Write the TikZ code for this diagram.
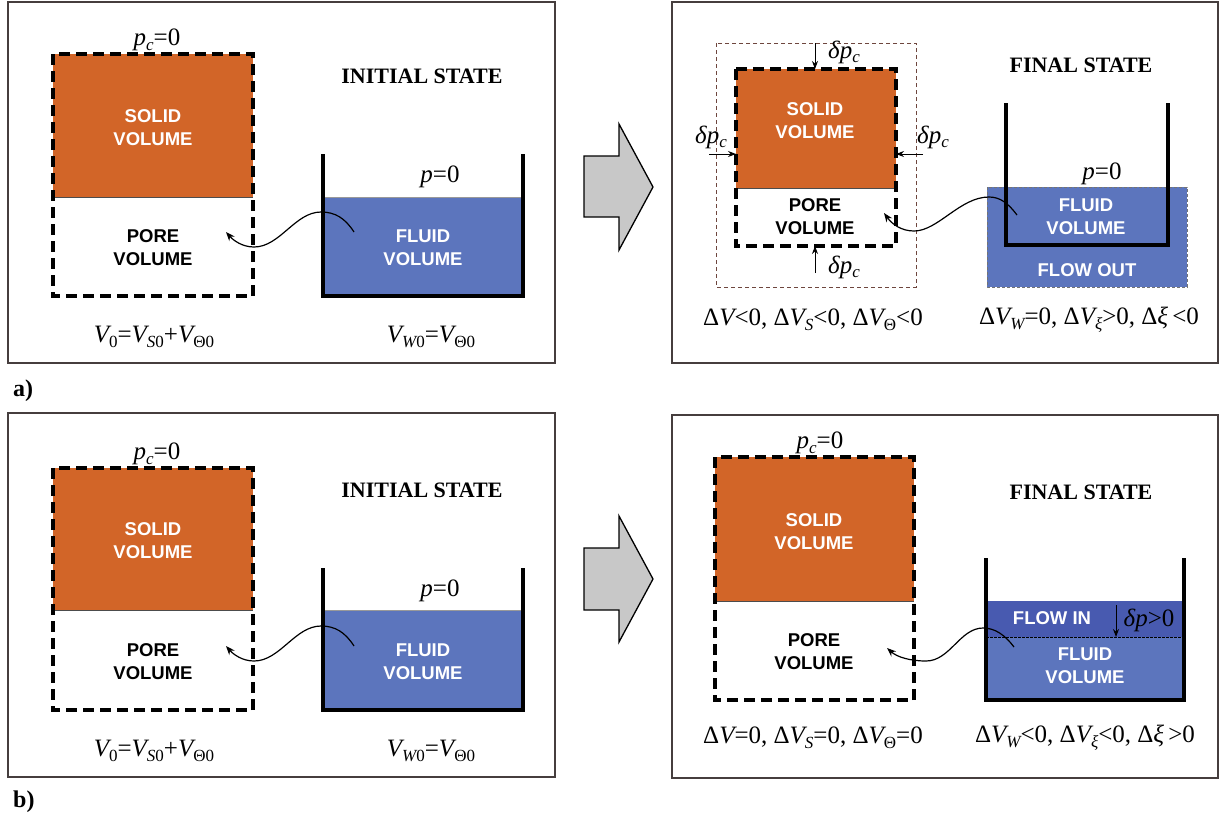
\documentclass[tikz,border=0pt]{standalone}
\usepackage{fontspec}
\setmainfont{Liberation Serif}
\newfontfamily\arialf{Liberation Sans}
\usetikzlibrary{arrows.meta}
\definecolor{solidc}{RGB}{210,101,40}
\definecolor{fluidc}{RGB}{92,117,189}
\definecolor{flowinc}{RGB}{72,90,176}
\definecolor{arrowg}{RGB}{200,200,200}
\definecolor{framec}{RGB}{70,62,62}
\definecolor{outerc}{RGB}{110,70,62}
\newcommand{\lsub}[1]{\raisebox{-0.4ex}{\fontsize{17}{17}\selectfont #1}}
\tikzset{
  frame/.style={draw=framec, line width=1.3pt},
  porebox/.style={draw=black, line width=3.2pt, dash pattern=on 11pt off 6pt},
  outerbox/.style={draw=outerc, line width=0.9pt, dash pattern=on 4pt off 3pt},
  wall/.style={draw=black, line width=3.5pt},
  vol/.style={align=center, font=\arialf\bfseries\fontsize{18.5}{23}\selectfont, inner sep=0pt},
  state/.style={font=\bfseries\fontsize{22}{26}\selectfont, inner sep=0pt},
  mlab/.style={font=\fontsize{25}{28}\selectfont, inner sep=0pt},
  wavy/.style={draw=black, line width=1.2pt, -{Stealth[length=9pt,width=7pt]}},
  force/.style={draw=black, line width=1pt, -{Stealth[length=8pt,width=6pt]}},
  blockarrow/.style={fill=arrowg, draw=black, line width=1.3pt, line join=miter},
  panel/.style={font=\bfseries\fontsize{24}{28}\selectfont, inner sep=0pt}
}
\begin{document}
\begin{tikzpicture}[x=1pt,y=-1pt]
\useasboundingbox (0,0) rectangle (1226,823);
\fill[white] (0,0) rectangle (1226,823);

%================ a) initial ================
\draw[frame] (8,2) rectangle (555,363);
\fill[solidc] (53,54) rectangle (253,197);
\draw[black!70, line width=0.8pt] (53,197) -- (253,197);
\draw[porebox] (53,54) rectangle (253,296);
\node[mlab] (pca) at (157,40) {{\itshape p}\lsub{\itshape c}=0};
\node[vol, text=white] (sola) at (153,128) {SOLID\\VOLUME};
\node[vol] (porea) at (153,248) {PORE\\VOLUME};
\node[state] (sta) at (422,76) {INITIAL STATE};
\fill[fluidc] (323,197) rectangle (523,296);
\draw[black!40, line width=0.6pt] (323,197) -- (523,197);
\draw[wall] (323,154) -- (323,296) -- (523,296) -- (523,154);
\node[mlab] (pa) at (440,177) {{\itshape p}=0};
\node[vol, text=white] (fla) at (423,248) {FLUID\\VOLUME};
\coordinate (wsa) at (354,232);
\coordinate (wea) at (226,232);
\draw[wavy] (wsa) .. controls (345,218) and (335,212) .. (321,212) .. controls (295,212) and (280,247) .. (254,247) .. controls (242,247) and (233,240) .. (wea);
\node[mlab] (va) at (154,337) {{\itshape V}\lsub{0}={\itshape V}\lsub{{\itshape S}0}+{\itshape V}\lsub{Θ0}};
\node[mlab] (vwa) at (431,337) {{\itshape V}\lsub{{\itshape W}0}={\itshape V}\lsub{Θ0}};

%================ arrows ================
\draw[blockarrow] (584,156) -- (619,156) -- (619,124) -- (653,187) -- (619,250) -- (619,217) -- (584,217) -- cycle;
\draw[blockarrow] (584,548) -- (619,548) -- (619,516) -- (653,579) -- (619,642) -- (619,610) -- (584,610) -- cycle;

%================ a) final ================
\draw[frame] (672,2) rectangle (1218,363);
\draw[outerbox] (716,43) rectangle (916,287);
\fill[solidc] (736,69) rectangle (896,188);
\draw[black!70, line width=0.8pt] (736,188) -- (896,188);
\draw[porebox] (736,69) rectangle (896,246);
\node[vol, text=white] (solb) at (815,121) {SOLID\\VOLUME};
\node[vol] (poreb) at (815,217) {PORE\\VOLUME};
\coordinate (ft) at (815,43);
\coordinate (fb) at (815,273);
\coordinate (fl) at (709,154);
\coordinate (fr) at (923,154);
\draw[force] (ft) -- (815,69);
\draw[force] (fb) -- (815,246);
\draw[force] (fl) -- (736,154);
\draw[force] (fr) -- (896,154);
\node[mlab] (dpt) at (844,52) {{\itshape δp}\lsub{\itshape c}};
\node[mlab] (dpb) at (844,267) {{\itshape δp}\lsub{\itshape c}};
\node[mlab] (dpl) at (711,137) {{\itshape δp}\lsub{\itshape c}};
\node[mlab] (dpr) at (933,137) {{\itshape δp}\lsub{\itshape c}};
\node[state] (stb) at (1081,65) {FINAL STATE};
\fill[fluidc] (987,187) rectangle (1187,287);
\draw[black!55, line width=0.8pt, dash pattern=on 3pt off 2pt] (987,187) rectangle (1187,287);
\draw[wall] (1006,103) -- (1006,245) -- (1168,245) -- (1168,103);
\node[mlab] (pb) at (1102,174) {{\itshape p}=0};
\node[vol, text=white] (flb) at (1086,217) {FLUID\\VOLUME};
\node[vol, text=white] (fout) at (1087,270) {FLOW OUT};
\coordinate (wsb) at (1017,215);
\coordinate (web) at (884,213);
\draw[wavy] (wsb) .. controls (1008,203) and (1000,197) .. (989,197) .. controls (960,197) and (938,231) .. (914,231) .. controls (901,231) and (892,224) .. (web);
\node[mlab] (dvb) at (813,320) {Δ{\itshape V}<0, Δ{\itshape V}\lsub{\itshape S}<0, Δ{\itshape V}\lsub{Θ}<0};
\node[mlab] (dwb) at (1089,320) {Δ{\itshape V}\lsub{\itshape W}=0, Δ{\itshape V}\lsub{\itshape ξ}>0, Δ{\itshape ξ}\,<0};

%================ b) initial ================
\begin{scope}[shift={(0,413)}]
\draw[frame] (8,0) rectangle (555,364);
\fill[solidc] (53,55) rectangle (253,197);
\draw[black!70, line width=0.8pt] (53,197) -- (253,197);
\draw[porebox] (53,55) rectangle (253,297);
\node[mlab] (pcc) at (157,41) {{\itshape p}\lsub{\itshape c}=0};
\node[vol, text=white] (solc) at (153,128) {SOLID\\VOLUME};
\node[vol] (porec) at (153,249) {PORE\\VOLUME};
\node[state] (stc) at (422,77) {INITIAL STATE};
\fill[fluidc] (323,197) rectangle (523,297);
\draw[black!40, line width=0.6pt] (323,197) -- (523,197);
\draw[wall] (323,155) -- (323,297) -- (523,297) -- (523,155);
\node[mlab] (pcv) at (440,178) {{\itshape p}=0};
\node[vol, text=white] (flc) at (423,249) {FLUID\\VOLUME};
\coordinate (wsc) at (354,233);
\coordinate (wec) at (226,233);
\draw[wavy] (wsc) .. controls (345,219) and (335,213) .. (321,213) .. controls (295,213) and (280,248) .. (254,248) .. controls (242,248) and (233,241) .. (wec);
\node[mlab] (vc) at (154,338) {{\itshape V}\lsub{0}={\itshape V}\lsub{{\itshape S}0}+{\itshape V}\lsub{Θ0}};
\node[mlab] (vwc) at (431,338) {{\itshape V}\lsub{{\itshape W}0}={\itshape V}\lsub{Θ0}};
\end{scope}

%================ b) final ================
\draw[frame] (672,415) rectangle (1218,778);
\fill[solidc] (715,457) rectangle (914,601);
\draw[black!70, line width=0.8pt] (715,601) -- (914,601);
\draw[porebox] (715,457) rectangle (914,700);
\node[mlab] (pcd) at (820,443) {{\itshape p}\lsub{\itshape c}=0};
\node[vol, text=white] (sold) at (814,532) {SOLID\\VOLUME};
\node[vol] (pored) at (814,652) {PORE\\VOLUME};
\node[state] (std) at (1081,492) {FINAL STATE};
\fill[fluidc] (986,601) rectangle (1184,700);
\fill[flowinc] (986,601) rectangle (1184,637);
\draw[black, line width=0.8pt, dash pattern=on 2.5pt off 1.5pt] (986,637) -- (1184,637);
\draw[wall] (986,558) -- (986,700) -- (1184,700) -- (1184,558);
\node[vol, text=white] (fin) at (1052,618) {FLOW IN};
\coordinate (dpa) at (1116,605);
\draw[force] (dpa) -- (1116,637);
\node[mlab] (dpd) at (1149,620) {{\itshape δp}>0};
\node[vol, text=white] (fld) at (1085,666) {FLUID\\VOLUME};
\coordinate (wsd) at (1014,647);
\coordinate (wed) at (887,648);
\draw[wavy] (wsd) .. controls (1005,635) and (995,628) .. (983,628) .. controls (960,628) and (950,661) .. (926,661) .. controls (910,661) and (897,657) .. (wed);
\node[mlab] (dvd) at (813,738) {Δ{\itshape V}=0, Δ{\itshape V}\lsub{\itshape S}=0, Δ{\itshape V}\lsub{Θ}=0};
\node[mlab] (dwd) at (1085,738) {Δ{\itshape V}\lsub{\itshape W}<0, Δ{\itshape V}\lsub{\itshape ξ}<0, Δ{\itshape ξ}\,>0};

\node[panel, anchor=west] (la) at (13,391) {a)};
\node[panel, anchor=west] (lb) at (13,802) {b)};
\end{tikzpicture}
\end{document}
